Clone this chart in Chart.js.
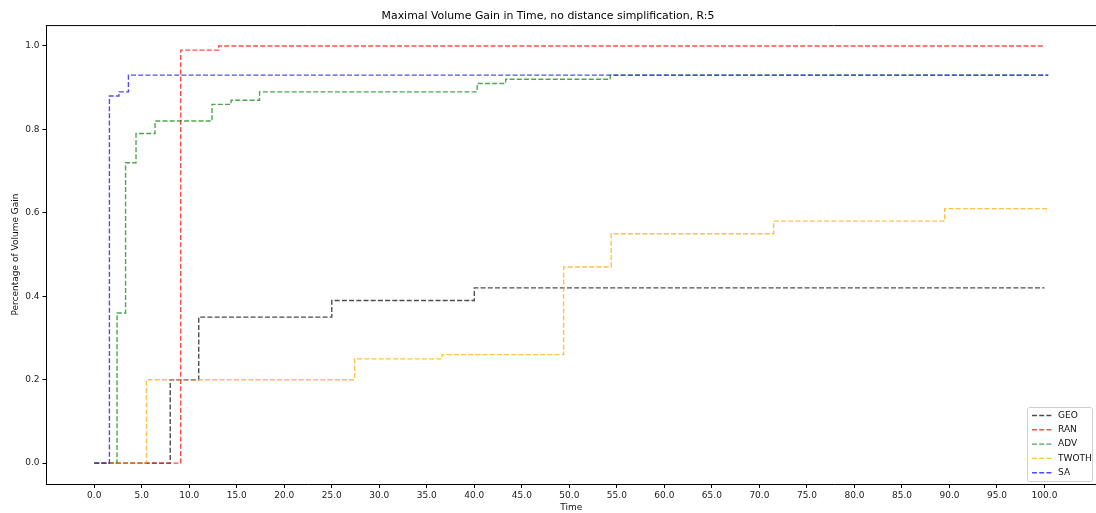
<!DOCTYPE html>
<html>
<head>
<meta charset="utf-8">
<script src="https://cdn.jsdelivr.net/npm/chart.js@4/dist/chart.umd.min.js"></script>
<style>
  body { margin: 0; background: #fff; }
  #wrap { width: 1096px; height: 513px; }
</style>
</head>
<body>
<div id="wrap"><canvas id="myChart" width="1096" height="513"></canvas></div>
<script>
// step series: time of each jump and the gain reached there
const seriesNames = ['GEO', 'RAN', 'ADV', 'TWOTH', 'SA'];
const seriesColors = ['rgba(0,0,0,0.7)', 'rgba(255,0,0,0.7)', 'rgba(0,128,0,0.7)', 'rgba(255,165,0,0.7)', 'rgba(0,0,255,0.7)'];

const geoTime = [0, 8.0, 11.0, 25.0, 40.0, 100.0];
const geoGain = [0, 0.20, 0.35, 0.39, 0.42, 0.42];

const ranTime = [0, 9.1, 13.1, 100.0];
const ranGain = [0, 0.99, 1.0, 1.0];

const advTime = [0, 2.4, 3.3, 4.4, 6.4, 12.4, 14.4, 17.4, 40.3, 43.3, 54.3, 100.4];
const advGain = [0, 0.36, 0.72, 0.79, 0.82, 0.86, 0.87, 0.89, 0.91, 0.92, 0.93, 0.93];

const twothTime = [0, 5.5, 27.4, 36.6, 49.4, 54.4, 71.5, 89.5, 100.4];
const twothGain = [0, 0.20, 0.25, 0.26, 0.47, 0.55, 0.58, 0.61, 0.61];

const saTime = [0, 1.6, 2.6, 3.6, 100.4];
const saGain = [0, 0.88, 0.89, 0.93, 0.93];

const xTicks = [0, 5, 10, 15, 20, 25, 30, 35, 40, 45, 50, 55, 60, 65, 70, 75, 80, 85, 90, 95, 100];
const yTicks = [0, 0.2, 0.4, 0.6, 0.8, 1.0];

const allTimes = [geoTime, ranTime, advTime, twothTime, saTime];
const allGains = [geoGain, ranGain, advGain, twothGain, saGain];

const FONT = 'DejaVu Sans';
const DASH = [5, 2.2];
const SMALL = 9;

const datasets = seriesNames.map((name, i) => ({
	label: name,
	data: allTimes[i].map((t, j) => ({ x: t, y: allGains[i][j] })),
	borderColor: seriesColors[i],
	backgroundColor: seriesColors[i],
	borderWidth: 1.4,
	borderDash: DASH,
	stepped: true,
	pointRadius: 0,
	fill: false,
	order: seriesNames.length - i,
}));

// top spine and the legend box in the lower right
const framePlugin = {
	id: 'frame',
	afterDraw(chart) {
		const { ctx, chartArea } = chart;
		ctx.save();
		ctx.strokeStyle = '#000';
		ctx.lineWidth = 1;
		ctx.beginPath();
		ctx.moveTo(chartArea.left, chartArea.top + 0.5);
		ctx.lineTo(chartArea.right, chartArea.top + 0.5);
		ctx.stroke();

		const boxR = chartArea.right - 4;
		const boxL = boxR - 65;
		const boxB = chartArea.bottom - 3;
		const boxT = boxB - 74;
		ctx.fillStyle = 'rgba(255,255,255,0.8)';
		ctx.strokeStyle = '#d0d0d0';
		ctx.beginPath();
		ctx.roundRect(boxL + 0.5, boxT + 0.5, boxR - boxL, boxB - boxT, 2);
		ctx.fill();
		ctx.stroke();

		ctx.font = SMALL + 'px "' + FONT + '"';
		ctx.textBaseline = 'middle';
		ctx.textAlign = 'left';
		seriesNames.forEach((name, i) => {
			const y = boxT + 8.5 + i * 14.3;
			ctx.strokeStyle = seriesColors[i];
			ctx.lineWidth = 1.4;
			ctx.setLineDash(DASH);
			ctx.beginPath();
			ctx.moveTo(boxL + 5, y);
			ctx.lineTo(boxL + 26, y);
			ctx.stroke();
			ctx.setLineDash([]);
			ctx.fillStyle = '#111';
			ctx.fillText(name, boxL + 31, y);
		});
		ctx.restore();
	}
};

new Chart(document.getElementById('myChart').getContext('2d'), {
	type: 'line',
	data: { datasets },
	options: {
		responsive: false,
		animation: false,
		layout: { padding: 0 },
		plugins: {
			legend: { display: false },
			tooltip: { enabled: false },
			title: {
				display: true,
				text: 'Maximal Volume Gain in Time, no distance simplification, R:5',
				color: '#000',
				font: { family: FONT, size: 10.9, weight: 'normal' },
				padding: { top: 10, bottom: 2 },
			},
		},
		scales: {
			x: {
				type: 'linear',
				min: -5.02,
				max: 105.42,
				afterBuildTicks: (s) => { s.ticks = xTicks.map(v => ({ value: v })); },
				afterFit: (s) => { s.height = 29; },
				ticks: {
					autoSkip: false,
					maxRotation: 0,
					padding: 2,
					color: '#222',
					font: { family: FONT, size: SMALL },
					callback: (v) => Number(v).toFixed(1),
				},
				grid: { drawOnChartArea: false, drawTicks: true, tickLength: 4, color: '#000' },
				border: { display: true, color: '#000', width: 1 },
				title: {
					display: true,
					text: 'Time',
					color: '#111',
					font: { family: FONT, size: SMALL },
					padding: { top: 0, bottom: 0 },
				},
			},
			y: {
				type: 'linear',
				min: -0.05,
				max: 1.05,
				afterBuildTicks: (s) => { s.ticks = yTicks.map(v => ({ value: v })); },
				afterFit: (s) => { s.width = 46.5; },
				ticks: {
					padding: 3,
					color: '#222',
					font: { family: FONT, size: SMALL },
					callback: (v) => Number(v).toFixed(1),
				},
				grid: { drawOnChartArea: false, drawTicks: true, tickLength: 4, color: '#000' },
				border: { display: true, color: '#000', width: 1 },
				title: {
					display: true,
					text: 'Percentage of Volume Gain',
					color: '#111',
					font: { family: FONT, size: SMALL },
					padding: { top: 10, bottom: 0 },
				},
			},
		},
	},
	plugins: [framePlugin],
});
</script>
</body>
</html>
